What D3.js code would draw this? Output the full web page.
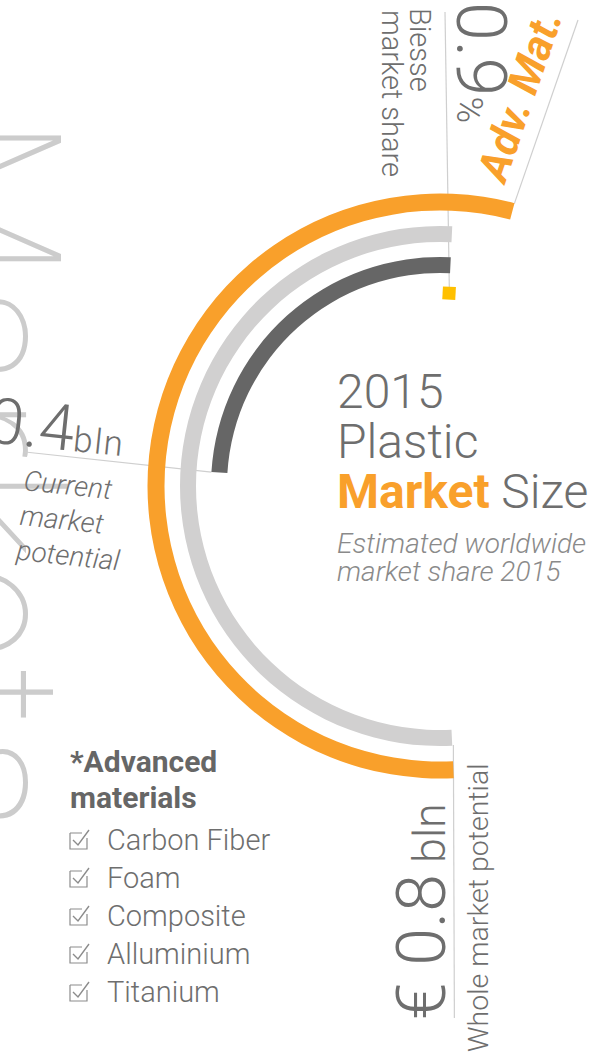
<!DOCTYPE html>
<html>
<head>
<meta charset="utf-8">
<script src="https://cdnjs.cloudflare.com/ajax/libs/d3/7.8.5/d3.min.js"></script>
<style>
  html, body { margin: 0; padding: 0; background: #fff; overflow: hidden; }
  svg { display: block; font-family: Roboto, sans-serif; }
</style>
</head>
<body>
<div id="chart"></div>
<script>
const rings = ['Whole market', 'Plastic market', 'Current market'];
const ringValues = [0.8, 0.8, 0.385];      // bln
const advMatShare = 0.052;                  // orange extension past the start line
const biesseShare = ['0.9', '%'];
const wholeLabel = ['€ 0.8', ' bln'];
const currentValue = ['€ 0.4', 'bln'];
const currentLabel = ['Current', 'market', 'potential'];
const headline = ['2015', 'Plastic'];
const subtitle = ['Estimated worldwide', 'market share 2015'];
const materials = ['Carbon Fiber', 'Foam', 'Composite', 'Alluminium', 'Titanium'];

const width = 592, height = 1055;
const cx = 440, cy = 486;
const deg = Math.PI / 180;
const gray = '#6e6e6e', orange = '#f9a02b', lineGray = '#cfcfcf';

const angle = d3.scaleLinear().domain([0, 0.8]).range([2.7 * deg, -182.7 * deg]);
const radius = d3.scaleOrdinal().domain(rings).range([284, 252, 221]);
const band = d3.scaleOrdinal().domain(rings).range([17, 16, 16]);
const color = d3.scaleOrdinal().domain(rings).range([orange, '#d1d0d0', '#666666']);

const pt = (a, r) => [cx + r * Math.sin(a), cy - r * Math.cos(a)];

const svg = d3.select('#chart').append('svg')
    .attr('width', width)
    .attr('height', height);

// big decorative word, clipped by the left edge
svg.append('text')
    .attr('transform', 'translate(-74,117) rotate(90)')
    .style('font-size', '190px')
    .style('font-weight', 100)
    .style('letter-spacing', '8px')
    .attr('fill', '#cccccc')
    .text('Markets');

// leader lines
const lines = [
    [[445, 12], pt(angle(0), 198)],
    [pt(angle(-advMatShare), 292), [578, 20]],
    [[25, 452], pt(angle(ringValues[2]), 229)],
    [[pt(angle(0.8), 284)[0], 745], [pt(angle(0.8), 284)[0] + 1, 1018]]
];
svg.append('g').selectAll('line')
    .data(lines)
    .enter().append('line')
    .attr('x1', d => d[0][0]).attr('y1', d => d[0][1])
    .attr('x2', d => d[1][0]).attr('y2', d => d[1][1])
    .attr('stroke', lineGray)
    .attr('stroke-width', 1.2);

const arc = d3.arc()
    .innerRadius(d => radius(d.name) - band(d.name) / 2)
    .outerRadius(d => radius(d.name) + band(d.name) / 2)
    .startAngle(d => angle(d.from))
    .endAngle(d => angle(d.value));

const ringData = rings.map((name, i) => ({name, value: ringValues[i], from: i === 0 ? -advMatShare : 0}));

svg.append('g')
    .attr('transform', 'translate(' + cx + ',' + cy + ')')
    .selectAll('path')
    .data(ringData)
    .enter().append('path')
    .attr('d', arc)
    .attr('fill', d => color(d.name));

// Biesse share marker
const sq = pt(angle(0), 193);
svg.append('rect')
    .attr('x', -6.5).attr('y', -6.5)
    .attr('width', 13).attr('height', 13)
    .attr('transform', 'translate(' + sq[0] + ',' + sq[1] + ') rotate(3)')
    .attr('fill', '#ffc000');

// top labels
const share = svg.append('text')
    .attr('transform', 'translate(457,2) rotate(90)')
    .attr('fill', gray)
    .style('font-weight', 300)
    .style('font-size', '70px');
share.append('tspan').text(biesseShare[0]);
share.append('tspan').style('font-size', '36px').text(biesseShare[1]);

[['Biesse', 410, 8], ['market share', 382, 10]].forEach(([t, x, y]) => {
    svg.append('text')
        .attr('transform', 'translate(' + x + ',' + y + ') rotate(90)')
        .attr('fill', gray)
        .style('font-weight', 300)
        .style('font-size', '29px')
        .text(t);
});

svg.append('text')
    .attr('transform', 'translate(505,184) rotate(-71)')
    .attr('fill', orange)
    .style('font-weight', 700)
    .style('font-style', 'italic')
    .style('font-size', '43px')
    .text('Adv. Mat.');

// current market potential label
const cur = svg.append('g').attr('transform', 'translate(25,452) rotate(6)');
const curText = cur.append('text')
    .attr('x', 98).attr('y', -6)
    .attr('text-anchor', 'end')
    .attr('fill', gray)
    .style('font-weight', 300);
curText.append('tspan').style('font-size', '64px').text(currentValue[0]);
curText.append('tspan').style('font-size', '35px').style('letter-spacing', '1.5px').text(currentValue[1]);
cur.selectAll('.cl')
    .data(currentLabel)
    .enter().append('text')
    .attr('class', 'cl')
    .attr('x', 2)
    .attr('y', (d, i) => 38 + i * 35)
    .attr('fill', gray)
    .style('font-weight', 300)
    .style('font-style', 'italic')
    .style('font-size', '28px')
    .text(d => d);

// center title
const title = svg.append('g').attr('transform', 'translate(337,0)');
title.selectAll('.hl')
    .data(headline)
    .enter().append('text')
    .attr('class', 'hl')
    .attr('y', (d, i) => 408 + i * 50)
    .attr('fill', gray)
    .style('font-weight', 300)
    .style('font-size', '48px')
    .text(d => d);
const ms = title.append('text')
    .attr('y', 508)
    .style('font-size', '48px');
ms.append('tspan').attr('fill', orange).style('font-weight', 700).text('Market');
ms.append('tspan').attr('fill', gray).style('font-weight', 300).text(' Size');
title.selectAll('.sub')
    .data(subtitle)
    .enter().append('text')
    .attr('class', 'sub')
    .attr('y', (d, i) => 553 + i * 28)
    .attr('fill', '#8a8a8a')
    .style('font-weight', 300)
    .style('font-style', 'italic')
    .style('font-size', '28px')
    .text(d => d);

// whole market potential
const whole = svg.append('text')
    .attr('transform', 'translate(445,1020) rotate(-90)')
    .attr('fill', gray)
    .style('font-weight', 300);
whole.append('tspan').style('font-size', '68px').text(wholeLabel[0]);
whole.append('tspan').style('font-size', '45px').text(wholeLabel[1]);

svg.append('text')
    .attr('transform', 'translate(488,1052) rotate(-90)')
    .attr('fill', gray)
    .style('font-weight', 300)
    .style('font-size', '28.5px')
    .text('Whole market potential');

// legend
const legend = svg.append('g').attr('transform', 'translate(70,0)');
['*Advanced', 'materials'].forEach((t, i) => {
    legend.append('text')
        .attr('y', 772 + i * 36)
        .attr('fill', '#666')
        .style('font-weight', 700)
        .style('font-size', '30px')
        .text(t);
});
const item = legend.selectAll('.item')
    .data(materials)
    .enter().append('g')
    .attr('class', 'item')
    .attr('transform', (d, i) => 'translate(0,' + (850 + i * 38) + ')');
item.append('path')
    .attr('d', 'M0,-17V-1H17V-12M0,-17H12')
    .attr('fill', 'none')
    .attr('stroke', '#8c8c8c')
    .attr('stroke-width', 1.2);
item.append('path')
    .attr('d', 'M3,-10L8,-5L19,-20')
    .attr('fill', 'none')
    .attr('stroke', '#8c8c8c')
    .attr('stroke-width', 1.4);
item.append('text')
    .attr('x', 37)
    .attr('fill', gray)
    .style('font-weight', 300)
    .style('font-size', '29px')
    .text(d => d);
</script>
</body>
</html>
